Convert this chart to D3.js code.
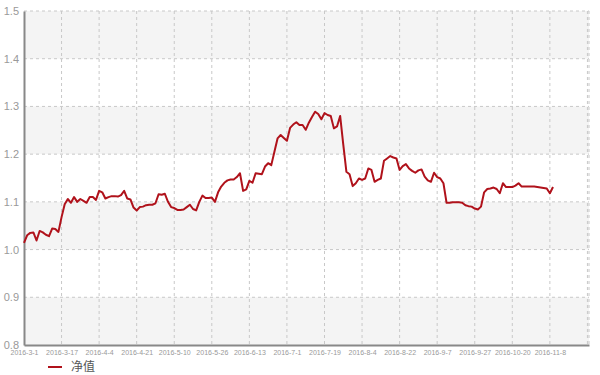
<!DOCTYPE html>
<html>
<head>
<meta charset="utf-8">
<script src="https://cdn.jsdelivr.net/npm/d3@7"></script>
<style>
  body { margin: 0; background: #fff; }
  text { font-family: "Liberation Sans", Arial, sans-serif; }
</style>
</head>
<body>
<div id="chart"></div>
<script>
// tick labels, one every 12 trading days
let tickLabels = ["2016-3-1", "2016-3-17", "2016-4-4", "2016-4-21", "2016-5-10", "2016-5-26",
  "2016-6-13", "2016-7-1", "2016-7-19", "2016-8-4", "2016-8-22", "2016-9-7",
  "2016-9-27", "2016-10-20", "2016-11-8"];

// net value, one per trading day
let navValues = [
  1.014, 1.030, 1.035, 1.036, 1.019, 1.039, 1.036, 1.031, 1.028, 1.044,
  1.043, 1.037, 1.068, 1.095, 1.106, 1.098, 1.110, 1.100, 1.106, 1.102,
  1.098, 1.110, 1.110, 1.104, 1.123, 1.120, 1.107, 1.110, 1.112, 1.112,
  1.111, 1.114, 1.123, 1.107, 1.105, 1.088, 1.082, 1.089, 1.090, 1.093,
  1.094, 1.094, 1.097, 1.116, 1.115, 1.117, 1.100, 1.089, 1.087, 1.083,
  1.083, 1.084, 1.089, 1.094, 1.085, 1.082, 1.100, 1.113, 1.108, 1.108,
  1.109, 1.100, 1.120, 1.132, 1.140, 1.145, 1.147, 1.147, 1.152, 1.160,
  1.123, 1.126, 1.144, 1.140, 1.160, 1.159, 1.158, 1.174, 1.181, 1.177,
  1.205, 1.233, 1.240, 1.234, 1.228, 1.255, 1.262, 1.267, 1.261, 1.261,
  1.251, 1.266, 1.278, 1.289, 1.284, 1.273, 1.286, 1.282, 1.280, 1.254,
  1.258, 1.280, 1.220, 1.163, 1.158, 1.133, 1.139, 1.149, 1.146, 1.149,
  1.170, 1.167, 1.142, 1.146, 1.149, 1.186, 1.191, 1.196, 1.193, 1.191,
  1.167, 1.175, 1.179, 1.170, 1.165, 1.161, 1.166, 1.168, 1.153, 1.145,
  1.142, 1.161, 1.152, 1.149, 1.139, 1.098, 1.098, 1.099, 1.099, 1.099,
  1.098, 1.093, 1.091, 1.090, 1.086, 1.084, 1.090, 1.120, 1.127, 1.128,
  1.130, 1.127, 1.118, 1.139, 1.131, 1.131, 1.131, 1.134, 1.139, 1.132,
  1.132, 1.132, 1.132, 1.132, 1.131, 1.130, 1.129, 1.128, 1.118, 1.131
];

let yTicks = [0.8, 0.9, 1.0, 1.1, 1.2, 1.3, 1.4, 1.5];
let seriesName = "净值";

let svgWidth = 600, svgHeight = 375;
let plot = { left: 24, right: 589, top: 11, bottom: 345 };

let svg = d3.select("#chart").append("svg")
  .attr("width", svgWidth)
  .attr("height", svgHeight);

let xScale = d3.scaleLinear().domain([0, 180.5]).range([plot.left, plot.right]);
let yScale = d3.scaleLinear().domain([0.8, 1.5]).range([plot.bottom, plot.top]);

// alternating bands
let bands = d3.range(yTicks.length - 1).filter(i => i % 2 === 0);
svg.append("g").selectAll("rect")
  .data(bands)
  .enter()
  .append("rect")
  .attr("x", plot.left)
  .attr("width", plot.right - plot.left)
  .attr("y", i => yScale(yTicks[i + 1]))
  .attr("height", i => yScale(yTicks[i]) - yScale(yTicks[i + 1]))
  .attr("fill", "#f4f4f4");

// grid
let xGrid = d3.range(12, 181, 12).concat([180.5]);
svg.append("g").selectAll("line")
  .data(xGrid)
  .enter()
  .append("line")
  .attr("x1", d => xScale(d)).attr("x2", d => xScale(d))
  .attr("y1", plot.top).attr("y2", plot.bottom)
  .attr("stroke", "#c8c8c8")
  .attr("stroke-dasharray", "3,3");

svg.append("g").selectAll("line")
  .data(yTicks.slice(1))
  .enter()
  .append("line")
  .attr("x1", plot.left).attr("x2", plot.right)
  .attr("y1", d => yScale(d)).attr("y2", d => yScale(d))
  .attr("stroke", "#c8c8c8")
  .attr("stroke-dasharray", "3,3");

// axes
let yAxis = d3.axisLeft(yScale).tickValues(yTicks).tickSize(0).tickPadding(5)
  .tickFormat(d3.format(".1f"));
let yG = svg.append("g").attr("transform", `translate(${plot.left},0)`).call(yAxis);
yG.select(".domain").attr("stroke", "#888").attr("stroke-width", 2);
yG.selectAll("text").attr("fill", "#999").attr("font-size", "11px");

let xAxis = d3.axisBottom(xScale)
  .tickValues(tickLabels.map((d, i) => i * 12))
  .tickSize(0).tickPadding(5)
  .tickFormat((d, i) => tickLabels[i]);
let xG = svg.append("g").attr("transform", `translate(0,${plot.bottom})`).call(xAxis);
xG.select(".domain").attr("stroke", "#888").attr("stroke-width", 2);
xG.selectAll("text").attr("fill", "#999").attr("font-size", "7px");

// line
let line = d3.line()
  .x((d, i) => xScale(i))
  .y(d => yScale(d));

svg.append("path")
  .datum(navValues)
  .attr("fill", "none")
  .attr("stroke", "#b0121b")
  .attr("stroke-width", 2)
  .attr("stroke-linejoin", "round")
  .attr("d", line);

// legend
svg.append("line")
  .attr("x1", 48).attr("x2", 62)
  .attr("y1", 367).attr("y2", 367)
  .attr("stroke", "#b0121b")
  .attr("stroke-width", 2);

svg.append("text")
  .attr("x", 71).attr("y", 371)
  .attr("font-size", "12px")
  .attr("fill", "#555")
  .style("font-family", "'Noto Sans CJK SC', sans-serif")
  .text(seriesName);
</script>
</body>
</html>
